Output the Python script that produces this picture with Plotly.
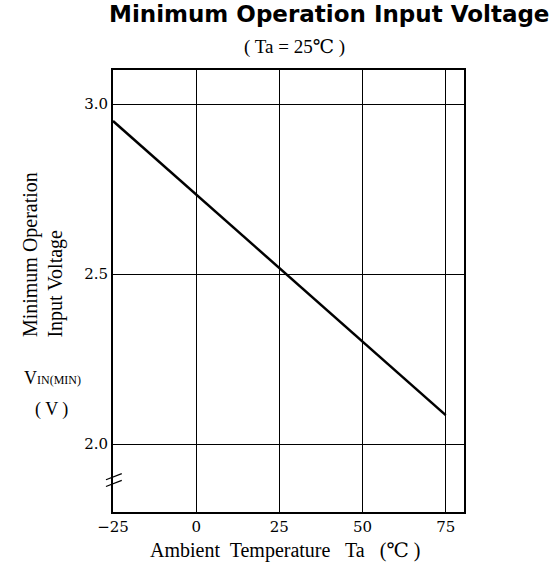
import plotly.graph_objects as go

# Data
temps = [-25, 0, 25, 50, 75]
vin_min = [2.95, 2.734, 2.517, 2.30, 2.085]

x_ticks = [-25, 0, 25, 50, 75]
x_tick_labels = ["\u221225", "0", "25", "50", "75"]
y_ticks = [2.0, 2.5, 3.0]
y_tick_labels = ["2.0", "2.5", "3.0"]

SERIF = "Liberation Serif, DejaVu Serif, serif"
TICK_FONT = dict(family="DejaVu Serif, serif", size=15, color="black")

fig = go.Figure()

fig.add_trace(go.Scatter(
    x=temps, y=vin_min, mode="lines",
    line=dict(color="black", width=2.5),
    showlegend=False, hoverinfo="skip"
))

# Axis break mark on the y axis
for dy in [0.0, 0.02]:
    fig.add_shape(type="line", xref="x domain", yref="y",
                  x0=-0.02, x1=0.025, y0=1.875 + dy, y1=1.893 + dy,
                  line=dict(color="black", width=1.2))

fig.update_layout(
    width=553, height=569,
    margin=dict(l=113, r=89, t=70, b=57),
    plot_bgcolor="white", paper_bgcolor="white",
    xaxis=dict(
        range=[-25, 80.5], tickvals=x_ticks, ticktext=x_tick_labels,
        showgrid=True, gridcolor="black", gridwidth=1,
        showline=True, linecolor="black", linewidth=2, mirror=True,
        zeroline=False, ticks="", tickfont=TICK_FONT,
    ),
    yaxis=dict(
        range=[1.8, 3.1], tickvals=y_ticks, ticktext=y_tick_labels,
        showgrid=True, gridcolor="black", gridwidth=1,
        showline=True, linecolor="black", linewidth=2, mirror=True,
        zeroline=False, ticks="", tickfont=TICK_FONT,
    ),
    annotations=[
        dict(text="<b>Minimum Operation Input Voltage</b>", xref="paper", yref="paper",
             x=0.614, y=1.0, yshift=56, xanchor="center", yanchor="middle", showarrow=False,
             font=dict(family="DejaVu Sans, sans-serif", size=23, color="black")),
        dict(text="( Ta = 25\u2103 )", xref="paper", yref="paper",
             x=0.518, y=1.0, yshift=23, xanchor="center", yanchor="middle", showarrow=False,
             font=dict(family=SERIF, size=19, color="black")),
        dict(text="Ambient  Temperature   Ta   (\u2103 )", xref="paper", yref="paper",
             x=0.49, y=0.0, yshift=-38, xanchor="center", yanchor="middle", showarrow=False,
             font=dict(family=SERIF, size=20, color="black")),
        dict(text="Minimum Operation", xref="paper", yref="paper",
             x=0.0, xshift=-83, y=0.39, textangle=-90, xanchor="center", yanchor="bottom",
             showarrow=False, font=dict(family=SERIF, size=20, color="black")),
        dict(text="Input Voltage", xref="paper", yref="paper",
             x=0.0, xshift=-57, y=0.39, textangle=-90, xanchor="center", yanchor="bottom",
             showarrow=False, font=dict(family=SERIF, size=20, color="black")),
        dict(text="V<span style='font-size:12px'>IN(MIN)</span>", xref="paper", yref="paper",
             x=0.0, xshift=-61, y=0.303, xanchor="center", yanchor="middle",
             showarrow=False, font=dict(family=SERIF, size=18, color="black")),
        dict(text="( V )", xref="paper", yref="paper",
             x=0.0, xshift=-62, y=0.231, xanchor="center", yanchor="middle",
             showarrow=False, font=dict(family=SERIF, size=18, color="black")),
    ],
)

fig.write_html("out.html", config={"displayModeBar": False},
               post_script="document.body.style.margin='0';")
